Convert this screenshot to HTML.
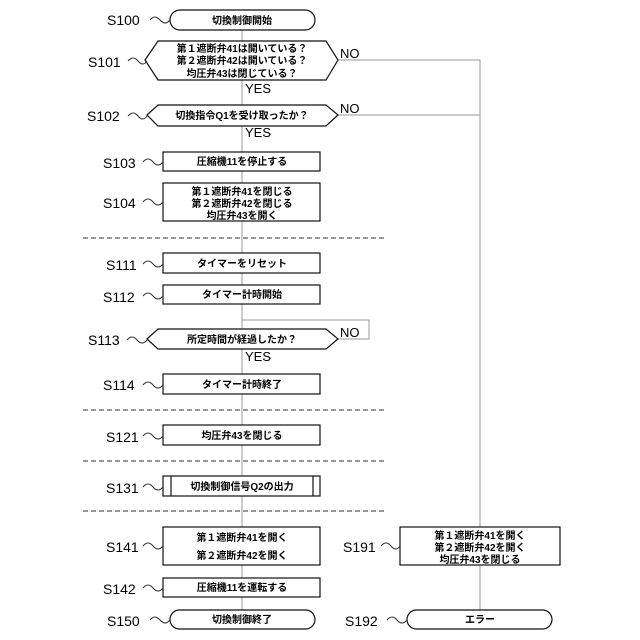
<!DOCTYPE html>
<html><head><meta charset="utf-8"><style>
html,body{margin:0;padding:0;background:#fff}
svg{display:block}
.j{font-family:"Liberation Sans","Noto Sans CJK JP",sans-serif;font-size:10px;font-weight:bold;text-anchor:middle;fill:#000}
.l{font-family:"Liberation Sans",sans-serif;font-size:14px;fill:#000}
.y{font-family:"Liberation Sans",sans-serif;font-size:13px;fill:#000}
</style></head><body>
<svg width="640" height="640" viewBox="0 0 640 640" xmlns="http://www.w3.org/2000/svg">
<defs><marker id="a" markerWidth="6" markerHeight="6" refX="3" refY="5" orient="auto-start-reverse" markerUnits="userSpaceOnUse"><path d="M0.5,1 L3,5 L5.5,1" fill="none" stroke="#888" stroke-width="0.8"/></marker></defs>
<g stroke="#999" stroke-width="1" fill="none">
<line x1="242" y1="30" x2="242" y2="41"/>
<line x1="242" y1="80" x2="242" y2="105"/>
<line x1="242" y1="126" x2="242" y2="152"/>
<line x1="242" y1="171" x2="242" y2="183"/>
<line x1="242" y1="221" x2="242" y2="253"/>
<line x1="242" y1="273" x2="242" y2="285"/>
<line x1="242" y1="304" x2="242" y2="329"/>
<line x1="242" y1="349" x2="242" y2="374"/>
<line x1="242" y1="394" x2="242" y2="425"/>
<line x1="242" y1="445" x2="242" y2="476"/>
<line x1="242" y1="496" x2="242" y2="527"/>
<line x1="242" y1="565" x2="242" y2="578"/>
<line x1="242" y1="597" x2="242" y2="610"/>
<polyline points="338,60 480,60 480,527"/>
<line x1="338" y1="115" x2="480" y2="115"/>
<line x1="480" y1="565" x2="480" y2="610"/>
<polyline points="338,339 369,339 369,320 242,320"/>
</g>
<g stroke="#333" stroke-width="1" stroke-dasharray="5,3"><line x1="83" y1="238" x2="385" y2="238"/><line x1="83" y1="410" x2="385" y2="410"/><line x1="83" y1="461" x2="385" y2="461"/><line x1="83" y1="511" x2="385" y2="511"/></g>
<g stroke="#111" stroke-width="1.2" fill="#fff">
<rect x="170" y="10" width="145" height="20" rx="10"/>
<polygon points="145,60 158,41 326,41 338,60 326,80 158,80"/>
<polygon points="147,115 158,105 326,105 338,115 326,126 158,126"/>
<rect x="163" y="152" width="157" height="19"/>
<rect x="163" y="183" width="157" height="38"/>
<rect x="163" y="253" width="157" height="20"/>
<rect x="163" y="285" width="157" height="19"/>
<polygon points="147,339 158,329 326,329 338,339 326,349 158,349"/>
<rect x="163" y="374" width="157" height="20"/>
<rect x="163" y="425" width="157" height="20"/>
<rect x="163" y="476" width="157" height="20"/>
<line x1="171" y1="476" x2="171" y2="496"/><line x1="313" y1="476" x2="313" y2="496"/>
<rect x="163" y="527" width="157" height="38"/>
<rect x="163" y="578" width="157" height="19"/>
<rect x="170" y="610" width="145" height="19" rx="9.5"/>
<rect x="400" y="527" width="160" height="38"/>
<rect x="407" y="610" width="145" height="19" rx="9.5"/>
</g>
<g class="j">
<text x="242" y="24">切換制御開始</text>
<text x="242" y="52">第１遮断弁41は開いている？</text>
<text x="242" y="64">第２遮断弁42は開いている？</text>
<text x="242" y="77">均圧弁43は閉じている？</text>
<text x="242" y="119">切換指令Q1を受け取ったか？</text>
<text x="242" y="165">圧縮機11を停止する</text>
<text x="242" y="195">第１遮断弁41を閉じる</text>
<text x="242" y="207">第２遮断弁42を閉じる</text>
<text x="242" y="219">均圧弁43を開く</text>
<text x="242" y="267">タイマーをリセット</text>
<text x="242" y="298">タイマー計時開始</text>
<text x="242" y="343">所定時間が経過したか？</text>
<text x="242" y="388">タイマー計時終了</text>
<text x="242" y="439">均圧弁43を閉じる</text>
<text x="242" y="490">切換制御信号Q2の出力</text>
<text x="242" y="541">第１遮断弁41を開く</text>
<text x="242" y="559">第２遮断弁42を開く</text>
<text x="242" y="591">圧縮機11を運転する</text>
<text x="242" y="623">切換制御終了</text>
<text x="480" y="539">第１遮断弁41を開く</text>
<text x="480" y="551">第２遮断弁42を開く</text>
<text x="480" y="563">均圧弁43を閉じる</text>
<text x="480" y="623">エラー</text>
</g>
<g class="y"><text x="245" y="93">YES</text><text x="245" y="137">YES</text><text x="245" y="361">YES</text><text x="340" y="58">NO</text><text x="340" y="113">NO</text><text x="340" y="337">NO</text></g>
<g class="l">
<text x="107" y="25">S100</text><text x="88" y="67">S101</text><text x="87" y="121">S102</text>
<text x="103" y="168">S103</text><text x="103" y="208">S104</text><text x="106" y="270">S111</text>
<text x="103" y="302">S112</text><text x="88" y="345">S113</text><text x="103" y="390">S114</text>
<text x="106" y="442">S121</text><text x="106" y="493">S131</text><text x="106" y="552">S141</text>
<text x="103" y="594">S142</text><text x="107" y="626">S150</text><text x="343" y="552">S191</text>
<text x="345" y="626">S192</text>
</g>
<g stroke="#333" stroke-width="1" fill="none">
<path d="M150,20 q5,-6 10,0 t10,0"/>
<path d="M128,61 q5,-6 10,0 t9,0"/>
<path d="M128,116 q5,-6 10,0 t9,0"/>
<path d="M143,162 q5,-6 10,0 t10,0"/>
<path d="M143,202 q5,-6 10,0 t10,0"/>
<path d="M143,264 q5,-6 10,0 t10,0"/>
<path d="M143,296 q5,-6 10,0 t10,0"/>
<path d="M127,340 q5,-6 10,0 t10,0"/>
<path d="M143,385 q5,-6 10,0 t10,0"/>
<path d="M143,436 q5,-6 10,0 t10,0"/>
<path d="M143,487 q5,-6 10,0 t10,0"/>
<path d="M143,546 q5,-6 10,0 t10,0"/>
<path d="M143,588 q5,-6 10,0 t10,0"/>
<path d="M150,620 q5,-6 10,0 t10,0"/>
<path d="M381,546 q5,-6 10,0 t9,0"/>
<path d="M387,620 q5,-6 10,0 t10,0"/>
</g>
</svg>
</body></html>
